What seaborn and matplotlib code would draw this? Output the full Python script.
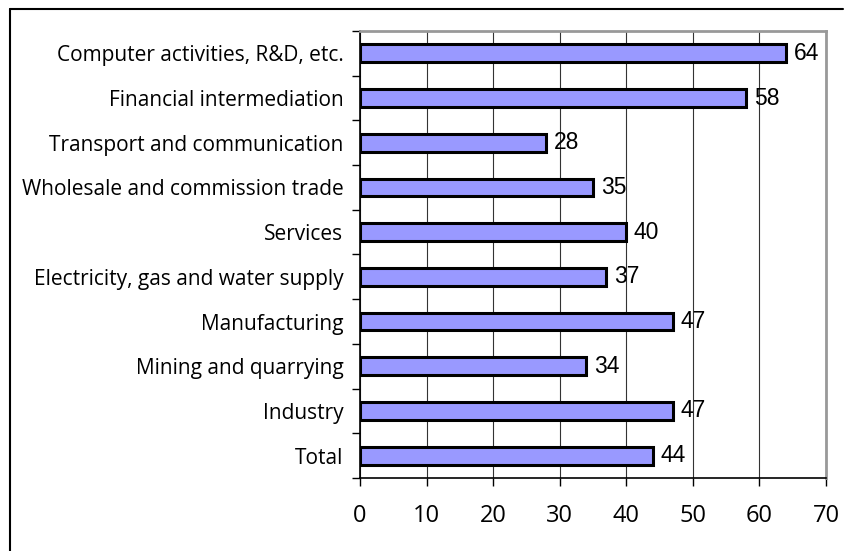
import matplotlib
matplotlib.use("Agg")
import matplotlib.pyplot as plt
import seaborn as sns
import pandas as pd
from matplotlib.lines import Line2D
from matplotlib.ticker import FixedLocator

categories = [
    "Computer activities, R&D, etc.",
    "Financial intermediation",
    "Transport and communication",
    "Wholesale and commission trade",
    "Services",
    "Electricity, gas and water supply",
    "Manufacturing",
    "Mining and quarrying",
    "Industry",
    "Total",
]
values = [64, 58, 28, 35, 40, 37, 47, 34, 47, 44]
x_ticks = [0, 10, 20, 30, 40, 50, 60, 70]

sns.set_theme(style="white")
plt.rcParams["font.family"] = ["Open Sans", "DejaVu Sans"]

df = pd.DataFrame({"category": categories, "value": values})

fig = plt.figure(figsize=(8.52, 5.51), dpi=100)
ax = fig.add_axes([360 / 852, 1 - 478 / 551, (826 - 360) / 852, (478 - 31) / 551])

sns.barplot(data=df, y="category", x="value", orient="h", color="#9999FF",
            saturation=1, edgecolor="black", linewidth=2.2, width=0.4, ax=ax)

ax.set_xlim(0, 70)
ax.set_ylim(len(categories) - 0.5, -0.5)
ax.set_xticks(x_ticks)
ax.set_xticklabels([str(t) for t in x_ticks], fontsize=17)
ax.set_xlabel("")
ax.set_ylabel("")
ax.tick_params(axis="y", which="major", length=0, pad=12, labelsize=15)
ax.yaxis.set_minor_locator(FixedLocator([i - 0.5 for i in range(len(categories) + 1)]))
ax.tick_params(axis="y", which="minor", length=6, width=1, color="black", direction="out", left=True)
ax.tick_params(axis="x", which="major", length=6, width=1, color="black", direction="out",
               bottom=True, pad=13)
for lbl in ax.get_yticklabels():
    lbl.set_color("black")
for lbl in ax.get_xticklabels():
    lbl.set_color("black")

ax.grid(axis="x", color="#333333", linewidth=0.8)
ax.grid(axis="y", visible=False)
ax.set_axisbelow(True)

for side in ["left", "bottom"]:
    ax.spines[side].set_color("black")
    ax.spines[side].set_linewidth(1.2)
for side in ["top", "right"]:
    ax.spines[side].set_visible(True)
    ax.spines[side].set_color("#999999")
    ax.spines[side].set_linewidth(2)

for i, v in enumerate(values):
    ax.annotate(str(v), xy=(v, i), xytext=(5.5, 0), textcoords="offset points",
                ha="left", va="center", fontsize=16.5, family="Liberation Sans", color="black")

# outer chart frame (top and left edges)
fig.add_artist(Line2D([10 / 852, 843 / 852], [1 - 9 / 551, 1 - 9 / 551], color="black", linewidth=1.5))
fig.add_artist(Line2D([10 / 852, 10 / 852], [1 - 9 / 551, 0], color="black", linewidth=1.5))

fig.savefig("out.png", dpi=100, facecolor="white")
